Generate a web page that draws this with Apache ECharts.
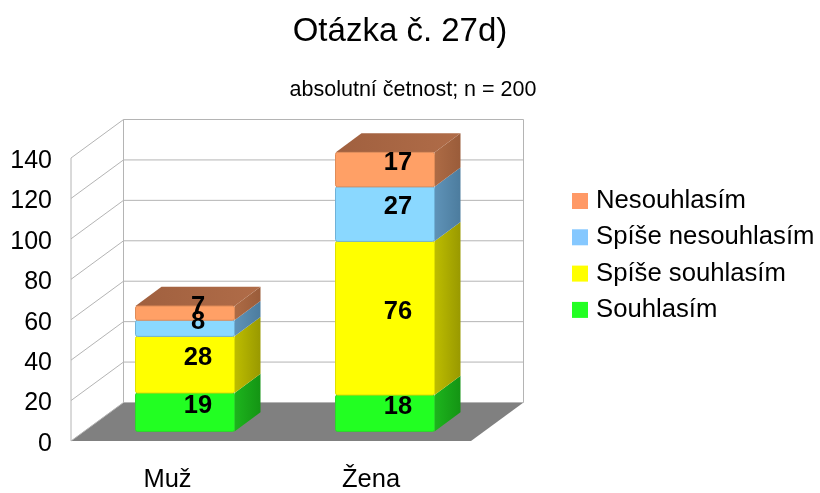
<!DOCTYPE html>
<html>
<head>
<meta charset="utf-8">
<title>Otázka č. 27d)</title>
<style>
  html, body { margin: 0; padding: 0; background: #fff; }
  #chart { width: 820px; height: 493px; }
</style>
<script src="https://cdn.jsdelivr.net/npm/echarts@6/dist/echarts.min.js"></script>
</head>
<body>
<div id="chart"></div>
<script>
var categories = ['Muž', 'Žena'];
var yTicks = [0, 20, 40, 60, 80, 100, 120, 140];

var souhlasim = [19, 18];
var spiseSouhlasim = [28, 76];
var spiseNesouhlasim = [8, 27];
var nesouhlasim = [7, 17];

var seriesNames = ['Souhlasím', 'Spíše souhlasím', 'Spíše nesouhlasím', 'Nesouhlasím'];
var seriesValues = [souhlasim, spiseSouhlasim, spiseNesouhlasim, nesouhlasim];

// barvy: predni stena, okraj, bok (2x), legenda
var faces = [
  { front: '#22ff22', border: '#2bd62b', side: ['#1db51d', '#149414'], legend: '#22ff22' },
  { front: '#ffff00', border: '#e0e000', side: ['#bdbd00', '#999900'], legend: '#ffff00' },
  { front: '#8ad8ff', border: '#6fb2d8', side: ['#5f93b8', '#4c7c9e'], legend: '#85c8ff' },
  { front: '#ffa066', border: '#e08c58', side: ['#ad6b45', '#9a5c3a'], legend: '#ff9966' }
];
var topFace = ['#a0603f', '#b06c48'];

var FONT = '"Liberation Sans", Arial, sans-serif';
var WALL = '#b4b4b4';
// hloubka grafu v pixelech
var depthX = 52.5;
var depthY = 38.5;

function poly(points, fill, stroke) {
  return {
    type: 'polygon',
    shape: { points: points },
    style: { fill: fill, stroke: stroke || null, lineWidth: stroke ? 1 : 0 }
  };
}

function line(x1, y1, x2, y2) {
  return {
    type: 'line',
    shape: { x1: x1, y1: y1, x2: x2, y2: y2 },
    style: { stroke: WALL, lineWidth: 1 }
  };
}

// zadni stena, leva stena a podlaha
function renderWall(params, api) {
  var box = params.coordSys;
  var y = api.coord([0, api.value(1)])[1];
  var left = box.x;
  var right = box.x + box.width;
  var children = [
    line(left + depthX, y - depthY, right + depthX, y - depthY),
    line(left, y, left + depthX, y - depthY)
  ];
  if (api.value(1) === 0) {
    children.unshift(poly([
      [left, y], [right, y], [right + depthX, y - depthY], [left + depthX, y - depthY]
    ], '#808080'));
    children.push(line(left, box.y, left, y));
    children.push(line(left + depthX, box.y - depthY, left + depthX, y - depthY));
    children.push(line(right + depthX, box.y - depthY, right + depthX, y - depthY));
  }
  return { type: 'group', children: children };
}

function makeRenderBar(s) {
  return function (params, api) {
    var i = api.value(0);
    var base = 0;
    for (var k = 0; k < s; k++) base += seriesValues[k][i];
    var value = seriesValues[s][i];
    var band = api.size([1, 0])[0];
    var w = band * 0.495;
    var shiftX = 14;
    var shiftY = depthY / 4;
    var sx = 26;
    var sy = depthY / 2;
    var cx = api.coord([i, 0])[0] + shiftX;
    var x0 = cx - w / 2;
    var x1 = cx + w / 2;
    var yBottom = api.coord([i, base])[1] - shiftY;
    var yTop = api.coord([i, base + value])[1] - shiftY;
    var c = faces[s];
    var children = [];

    // bok
    children.push(poly([
      [x1, yTop], [x1 + sx, yTop - sy], [x1 + sx, yBottom - sy], [x1, yBottom]
    ], {
      type: 'linear', x: 0, y: 0, x2: 1, y2: 0,
      colorStops: [{ offset: 0, color: c.side[0] }, { offset: 1, color: c.side[1] }]
    }));

    // horni plocha jen u posledniho dilu
    if (s === seriesValues.length - 1) {
      children.push(poly([
        [x0, yTop], [x1, yTop], [x1 + sx, yTop - sy], [x0 + sx, yTop - sy]
      ], {
        type: 'linear', x: 0, y: 0, x2: 1, y2: 0,
        colorStops: [{ offset: 0, color: topFace[0] }, { offset: 1, color: topFace[1] }]
      }));
    }

    children.push({
      type: 'rect',
      shape: { x: x0, y: yTop, width: w, height: yBottom - yTop, r: 2 },
      style: { fill: c.front, stroke: c.border, lineWidth: 1 }
    });

    // popisek je uprostred hloubky sloupce
    children.push({
      type: 'text',
      z2: 100,
      style: {
        x: cx + sx / 2,
        y: (yTop + yBottom) / 2 - sy / 2 + 3,
        text: String(value),
        align: 'center',
        verticalAlign: 'middle',
        fill: '#000',
        font: 'bold 25.5px ' + FONT
      }
    });
    return { type: 'group', children: children };
  };
}

var series = [{
  type: 'custom',
  silent: true,
  clip: false,
  renderItem: renderWall,
  encode: { x: 0, y: 1 },
  data: yTicks.map(function (v) { return [0, v]; })
}];

seriesNames.forEach(function (name, s) {
  series.push({
    type: 'custom',
    name: name,
    clip: false,
    renderItem: makeRenderBar(s),
    itemStyle: { color: faces[s].legend },
    encode: { x: 0, y: 1 },
    data: seriesValues[s].map(function (v, i) { return [i, v]; })
  });
});

var chart = echarts.init(document.getElementById('chart'), null, { renderer: 'canvas' });

chart.setOption({
  animation: false,
  backgroundColor: '#fff',
  textStyle: { fontFamily: FONT },
  title: [{
    text: 'Otázka č. 27d)',
    left: 400,
    top: 15,
    padding: 0,
    textAlign: 'center',
    textStyle: { fontFamily: FONT, fontSize: 33, fontWeight: 'normal', color: '#000' }
  }, {
    text: 'absolutní četnost; n = 200',
    left: 413,
    top: 79,
    padding: 0,
    textAlign: 'center',
    textStyle: { fontFamily: FONT, fontSize: 21.5, fontWeight: 'normal', color: '#000' }
  }],
  legend: {
    left: 572,
    top: 188,
    orient: 'vertical',
    padding: 0,
    itemWidth: 16,
    itemHeight: 16,
    itemGap: 10.3,
    icon: 'rect',
    data: seriesNames.slice().reverse().map(function (name) {
      return { name: name };
    }),
    textStyle: { fontFamily: FONT, fontSize: 25.7, lineHeight: 24, color: '#000', padding: [0, 0, 0, 3] }
  },
  grid: { left: 71, top: 158, width: 400, height: 283 },
  xAxis: {
    type: 'category',
    data: [
      { value: categories[0], textStyle: { padding: [0, 7, 0, 0] } },
      { value: categories[1] }
    ],
    axisLine: { show: false },
    axisTick: { show: false },
    axisLabel: { fontFamily: FONT, fontSize: 25.5, color: '#000', margin: 26 }
  },
  yAxis: {
    type: 'value',
    min: 0,
    max: 140,
    interval: 20,
    axisLine: { show: false },
    axisTick: { show: false },
    splitLine: { show: false },
    // nizka radka posune cislo mirne pod uroven mrizky
    axisLabel: { fontFamily: FONT, fontSize: 25, color: '#000', margin: 19, verticalAlign: 'top', lineHeight: 6 }
  },
  series: series
});
</script>
</body>
</html>
